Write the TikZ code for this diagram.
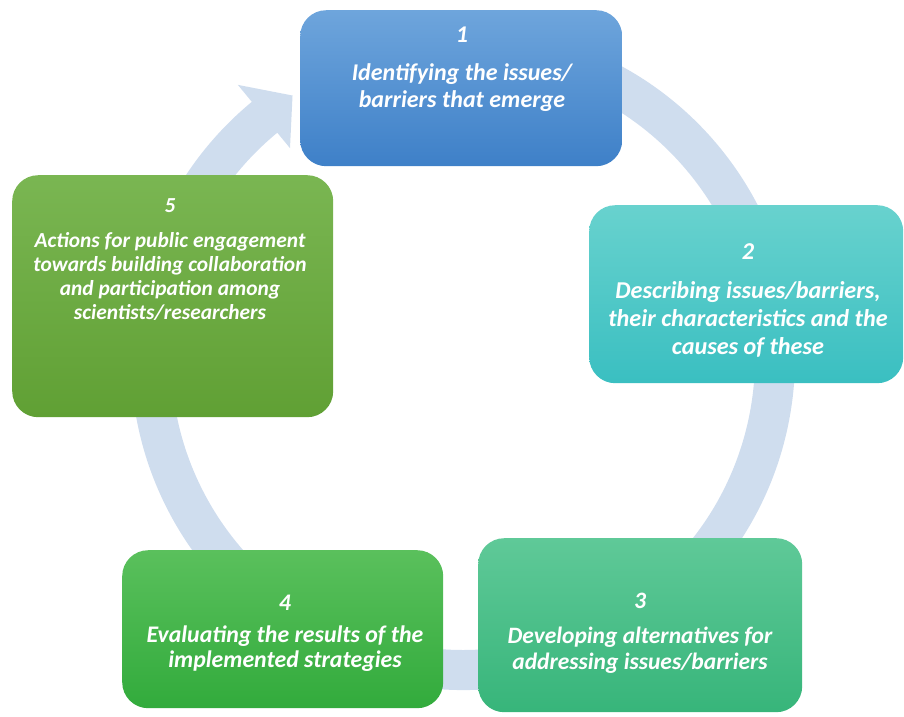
\documentclass[tikz,border=0pt]{standalone}
\usepackage{fontspec}
\setmainfont{Carlito}
\usetikzlibrary{calc}
\definecolor{ringc}{RGB}{207,221,238}
\definecolor{b1t}{RGB}{110,165,220}
\definecolor{b1b}{RGB}{62,128,200}
\definecolor{b2t}{RGB}{104,210,206}
\definecolor{b2b}{RGB}{58,191,193}
\definecolor{b3t}{RGB}{95,201,152}
\definecolor{b3b}{RGB}{55,181,122}
\definecolor{b4t}{RGB}{90,192,92}
\definecolor{b4b}{RGB}{50,171,60}
\definecolor{b5t}{RGB}{122,182,82}
\definecolor{b5b}{RGB}{96,160,52}
\begin{document}
\begin{tikzpicture}[x=1pt,y=1pt,
  box/.style={rounded corners=26pt, inner sep=0pt, anchor=north west, draw=none},
  lbl/.style={text=white, align=center, anchor=north, inner sep=0pt}]
\useasboundingbox (0,0) rectangle (904,-716);
\coordinate (C) at (463,-358);
% cycle arrow
\fill[ringc] ($(C)+(80:332pt)$) arc[start angle=80, end angle=-230.5, radius=332pt]
  -- ($(C)+(-230.5:354pt)$) -- ($(C)+(-237:313pt)$) -- ($(C)+(-230.5:272pt)$)
  -- ($(C)+(-230.5:292pt)$) arc[start angle=-230.5, end angle=80, radius=292pt] -- cycle;
% boxes
\node[box, minimum width=322pt, minimum height=156pt, top color=b1t, bottom color=b1b] (b1) at (300,-10) {};
\node[box, minimum width=314pt, minimum height=178pt, top color=b2t, bottom color=b2b] (b2) at (589,-205) {};
\node[box, minimum width=324pt, minimum height=174pt, top color=b3t, bottom color=b3b] (b3) at (478,-538) {};
\node[box, minimum width=321pt, minimum height=158pt, top color=b4t, bottom color=b4b] (b4) at (122,-550) {};
\node[box, minimum width=321pt, minimum height=242pt, top color=b5t, bottom color=b5b] (b5) at (12,-175) {};
% labels
\node[lbl, font=\fontsize{24}{27}\selectfont\bfseries\itshape] (t1) at (462,-27)
  {1\\[11pt]Identifying the issues/\\barriers that emerge};
\node[lbl, font=\fontsize{24.2}{28}\selectfont\bfseries\itshape] (t2) at (748,-243)
  {2\\[11pt]Describing issues/barriers,\\their characteristics and the\\causes of these};
\node[lbl, font=\fontsize{23.5}{26}\selectfont\bfseries\itshape] (t3) at (640,-593)
  {3\\[9pt]Developing alternatives for\\addressing issues/barriers};
\node[lbl, font=\fontsize{23.8}{25}\selectfont\bfseries\itshape] (t4) at (285,-595)
  {4\\[7pt]Evaluating the results of the\\implemented strategies};
\node[lbl, font=\fontsize{21.4}{24}\selectfont\bfseries\itshape] (t5) at (170,-198)
  {5\\[11pt]Actions for public engagement\\towards building collaboration\\and participation among\\scientists/researchers};
\end{tikzpicture}
\end{document}
